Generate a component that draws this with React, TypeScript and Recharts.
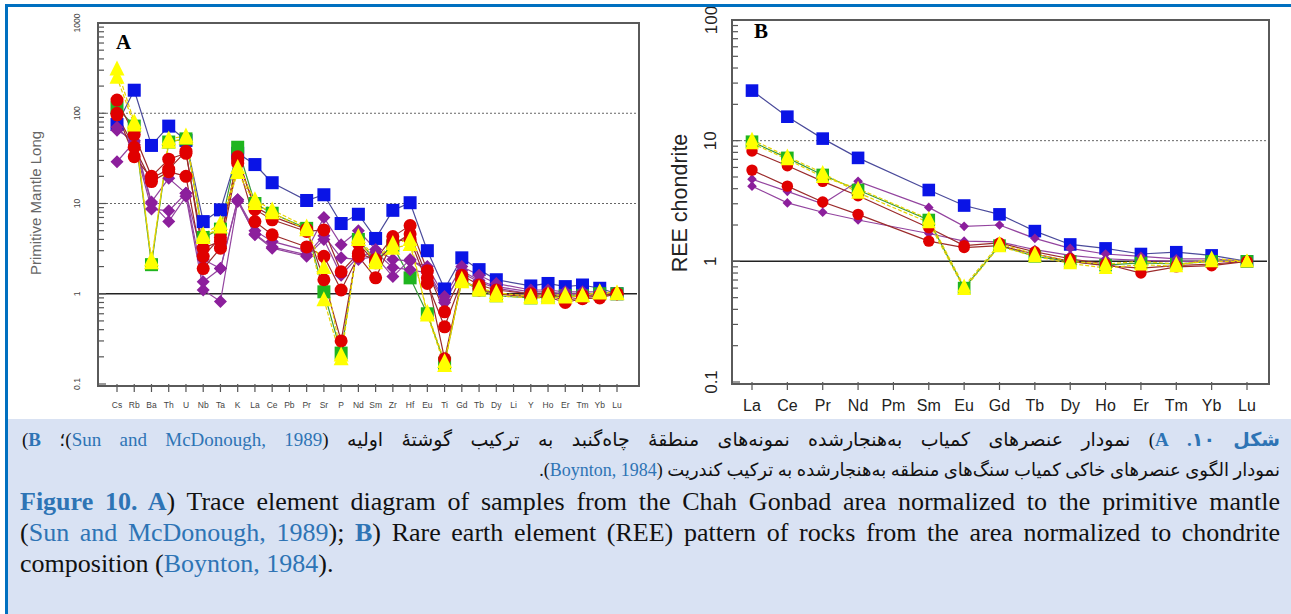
import React from "react";
import { LineChart, Line, XAxis, YAxis, ReferenceLine } from "recharts";

// ---- Panel A: primitive-mantle normalised trace elements ----
const ELEMENTS_A = ["Cs", "Rb", "Ba", "Th", "U", "Nb", "Ta", "K", "La", "Ce", "Pb", "Pr", "Sr", "P", "Nd", "Sm", "Zr", "Hf", "Eu", "Ti", "Gd", "Tb", "Dy", "Li", "Y", "Ho", "Er", "Tm", "Yb", "Lu"];

const BLUE_A = [75, 180, 44, 72, 50, 6.3, 8.5, 36, 27, 17, null, 10.8, 12.5, 6.0, 7.6, 4.1, 8.4, 10.2, 3.0, 1.13, 2.5, 1.85, 1.43, null, 1.22, 1.3, 1.2, 1.25, 1.15, 1.0];
const GREEN_A = [115, 72, 2.1, 48, 52, 4.2, 5.2, 42, 10, 7.8, null, 5.3, 1.05, 0.22, 4.0, 2.3, 3.4, 1.5, 0.6, 0.17, 1.4, 1.1, 0.95, null, 0.9, 0.92, 0.95, 0.95, 1.0, 1.0];
const PURPLE_A1 = [65, 50, 10.4, 19, 13, 2.4, 1.9, 11, 5, 3.8, null, 3.0, 7.0, 3.5, 5.0, 3.1, 2.4, 2.3, 2.0, 0.93, 2.0, 1.6, 1.3, null, 1.1, 1.1, 1.05, 1.05, 1.05, 1.0];
const PURPLE_A2 = [70, 45, 8.7, 8.3, 13, 1.36, 1.9, 11, 4.5, 3.2, null, 2.6, 4.0, 1.6, 2.6, 2.9, 1.95, 1.85, 1.7, 0.8, 1.8, 1.4, 1.2, null, 1.05, 1.05, 1.0, 1.0, 1.0, 1.0];
const PURPLE_A3 = [29, 48, 10, 6.3, 12, 1.1, 0.82, 10.5, 4.6, 3.3, null, 2.7, 4.4, 2.5, 2.4, 2.6, 1.55, 2.4, 1.8, 0.85, 1.7, 1.35, 1.15, null, 1.0, 1.0, 1.0, 1.0, 1.0, 1.0];
const RED_A1 = [140, 58, 20, 31, 36, 3.2, 3.8, 33, 8.6, 6.6, null, 4.9, 5.1, 1.75, 2.8, 2.4, 4.3, 5.7, 1.8, 0.63, 1.6, 1.25, 1.1, null, 1.0, 1.0, 0.9, 0.95, 0.95, 1.0];
const RED_A2 = [96, 42, 17.5, 22.5, 20, 1.9, 3.2, 28, 6.3, 4.5, null, 3.3, 2.6, 1.1, 2.6, 1.5, 3.8, 4.0, 1.3, 0.43, 1.4, 1.15, 1.0, null, 0.92, 0.92, 0.8, 0.88, 0.9, 1.0];
const RED_A3 = [100, 33, 19, 24, 38, 2.6, 4.2, 30, 9.2, 7.2, null, 5.2, 1.43, 0.3, 3.6, 2.2, 3.5, 4.6, 1.5, 0.19, 1.45, 1.1, 1.0, null, 0.95, 0.95, 0.85, 0.9, 0.95, 1.0];
const YELLOW_A1 = [250, 74, 2.38, 48, 53, 4.2, 5.5, 22, 10, 7.9, null, 5.1, 1.95, 0.21, 4.0, 2.2, 3.2, 3.5, 0.62, 0.177, 1.36, 1.16, 1.03, null, 0.93, 0.97, 0.97, 0.96, 1.02, 1.0];
const YELLOW_A2 = [310, 80, 2.2, 52, 56, 4.5, 6.0, 25, 11, 8.5, null, 5.5, 0.86, 0.19, 4.3, 2.4, 3.6, 4.0, 0.58, 0.16, 1.45, 1.1, 0.95, null, 0.9, 0.9, 0.92, 0.95, 1.05, 1.02];

const MAJOR_A = [0.1, 1, 10, 100, 1000];
const MINOR_A = [0.2, 0.3, 0.4, 0.5, 0.6, 0.7, 0.8, 0.9, 2, 3, 4, 5, 6, 7, 8, 9, 20, 30, 40, 50, 60, 70, 80, 90, 200, 300, 400, 500, 600, 700, 800, 900];

// ---- Panel B: chondrite normalised REE ----
const ELEMENTS_B = ["La", "Ce", "Pr", "Nd", "Pm", "Sm", "Eu", "Gd", "Tb", "Dy", "Ho", "Er", "Tm", "Yb", "Lu"];

const BLUE_B = [26, 15.8, 10.4, 7.2, null, 3.9, 2.9, 2.45, 1.78, 1.38, 1.28, 1.15, 1.19, 1.12, 1.0];
const GREEN_B = [9.8, 7.2, 5.2, 3.9, null, 2.2, 0.6, 1.35, 1.1, 1.0, 0.93, 0.97, 0.95, 1.0, 1.0];
const PURPLE_B1 = [4.8, 3.8, 3.0, 4.6, null, 2.8, 1.95, 2.0, 1.55, 1.28, 1.15, 1.1, 1.05, 1.05, 1.0];
const PURPLE_B2 = [4.2, 3.05, 2.55, 2.2, null, 1.7, 1.47, 1.45, 1.25, 1.12, 1.05, 1.02, 1.0, 1.0, 1.0];
const RED_B1 = [8.2, 6.2, 4.6, 3.5, null, 1.9, 1.35, 1.42, 1.2, 1.05, 0.95, 0.8, 0.9, 0.92, 1.0];
const RED_B2 = [5.7, 4.2, 3.1, 2.45, null, 1.47, 1.3, 1.35, 1.15, 1.0, 0.92, 0.88, 0.92, 0.95, 1.0];
const YELLOW_B1 = [10.2, 7.4, 5.4, 3.7, null, 2.1, 0.59, 1.33, 1.1, 0.96, 0.88, 0.94, 0.91, 1.06, 1.0];
const YELLOW_B2 = [9.5, 7.0, 5.0, 4.0, null, 2.25, 0.62, 1.4, 1.15, 1.0, 0.95, 1.0, 0.95, 1.0, 1.0];

const MAJOR_B = [0.1, 1, 10, 100];
const MINOR_B = [0.2, 0.3, 0.4, 0.5, 0.6, 0.7, 0.8, 0.9, 2, 3, 4, 5, 6, 7, 8, 9, 20, 30, 40, 50, 60, 70, 80, 90];

type Shape = "square" | "circle" | "diamond" | "triangle";
type Series = { key: string; values: (number | null)[]; shape: Shape; fill: string; stroke: string; dash?: string };

const STYLE = {
  blue: { shape: "square" as Shape, fill: "#0a14e6", stroke: "#4b4b9b" },
  green: { shape: "square" as Shape, fill: "#1fb51f", stroke: "#3a9a3a" },
  purple: { shape: "diamond" as Shape, fill: "#8c1f9c", stroke: "#93449f" },
  red: { shape: "circle" as Shape, fill: "#e00000", stroke: "#9b2b2b" },
  yellow: { shape: "triangle" as Shape, fill: "#ffff00", stroke: "#e8d400", dash: "4 2" },
};

const SERIES_A: Series[] = [
  { key: "blue", values: BLUE_A, ...STYLE.blue },
  { key: "green", values: GREEN_A, ...STYLE.green },
  { key: "purple1", values: PURPLE_A1, ...STYLE.purple },
  { key: "purple2", values: PURPLE_A2, ...STYLE.purple },
  { key: "purple3", values: PURPLE_A3, ...STYLE.purple },
  { key: "red1", values: RED_A1, ...STYLE.red },
  { key: "red2", values: RED_A2, ...STYLE.red },
  { key: "red3", values: RED_A3, ...STYLE.red },
  { key: "yellow1", values: YELLOW_A1, ...STYLE.yellow },
  { key: "yellow2", values: YELLOW_A2, ...STYLE.yellow },
];

const SERIES_B: Series[] = [
  { key: "blue", values: BLUE_B, ...STYLE.blue },
  { key: "green", values: GREEN_B, ...STYLE.green },
  { key: "purple1", values: PURPLE_B1, ...STYLE.purple },
  { key: "purple2", values: PURPLE_B2, ...STYLE.purple },
  { key: "red1", values: RED_B1, ...STYLE.red },
  { key: "red2", values: RED_B2, ...STYLE.red },
  { key: "yellow1", values: YELLOW_B1, ...STYLE.yellow },
  { key: "yellow2", values: YELLOW_B2, ...STYLE.yellow },
];

const toRows = (cats: string[], series: Series[]) =>
  cats.map((el, i) => {
    const row: Record<string, string | number | null> = { el };
    series.forEach((s) => (row[s.key] = s.values[i]));
    return row;
  });

const dataA = toRows(ELEMENTS_A, SERIES_A);
const dataB = toRows(ELEMENTS_B, SERIES_B);

function marker(shape: Shape, fill: string, size: number) {
  return (p: any) => {
    const { cx, cy, index, value } = p;
    if (value == null || cx == null || cy == null || isNaN(cy)) return <g key={`n${index}`} />;
    const h = size / 2;
    if (shape === "square")
      return <rect key={`m${index}`} x={cx - h} y={cy - h} width={size} height={size} fill={fill} />;
    if (shape === "circle") return <circle key={`m${index}`} cx={cx} cy={cy} r={h} fill={fill} />;
    if (shape === "diamond")
      return <polygon key={`m${index}`} points={`${cx},${cy - h} ${cx + h},${cy} ${cx},${cy + h} ${cx - h},${cy}`} fill={fill} />;
    return (
      <polygon key={`m${index}`} points={`${cx},${cy - h - 1} ${cx + h},${cy + h - 1} ${cx - h},${cy + h - 1}`} fill={fill} />
    );
  };
}

function yTick(axisX: number, labelX: number, majors: number[], fontSize: number, color: string, majorLen: number) {
  return (props: any) => {
    const { y, payload } = props;
    const v = payload.value;
    const major = majors.includes(v);
    return (
      <g>
        <line x1={axisX} x2={axisX + (major ? majorLen : 6)} y1={y} y2={y} stroke="#555" strokeWidth={1.2} />
        {major && (
          <text
            x={labelX}
            y={y}
            transform={`rotate(-90 ${labelX} ${y})`}
            textAnchor="middle"
            dominantBaseline="central"
            fontSize={fontSize}
            fill={color}
            fontFamily="'Liberation Sans', Arial, sans-serif"
          >
            {String(v)}
          </text>
        )}
      </g>
    );
  };
}

function xTick(bottom: number, baseline: number, fontSize: number, color: string) {
  return (props: any) => {
    const { x, payload } = props;
    return (
      <g>
        <line x1={x} x2={x} y1={bottom} y2={bottom + 8} stroke="#555" strokeWidth={1.2} />
        <text x={x} y={baseline} textAnchor="middle" fontSize={fontSize} fill={color} fontFamily="'Liberation Sans', Arial, sans-serif">
          {payload.value}
        </text>
      </g>
    );
  };
}

function renderLines(series: Series[], size: number, scale: Record<Shape, number>) {
  return series.map((s) => (
    <Line
      key={s.key}
      dataKey={s.key}
      type="linear"
      stroke={s.stroke}
      strokeWidth={1.2}
      strokeDasharray={s.dash}
      connectNulls
      dot={marker(s.shape, s.fill, size * scale[s.shape])}
      activeDot={false}
      isAnimationActive={false}
    />
  ));
}

const serif = "'Liberation Serif', 'Times New Roman', 'DejaVu Sans', serif";
const blueTxt = "#2e74b5";

export default function App() {
  return (
    <div style={{ position: "absolute", left: 0, top: 0, width: 1291, height: 614, background: "#fff", overflow: "hidden" }}>
      {/* Panel A */}
      <div style={{ position: "absolute", left: 0, top: 0 }}>
        <LineChart width={660} height={415} data={dataA} margin={{ top: 23, right: 23, left: 0, bottom: 0 }}>
          <XAxis
            dataKey="el"
            interval={0}
            height={31}
            axisLine={false}
            tickLine={false}
            padding={{ left: 19, right: 20 }}
            tick={xTick(384, 408, 8.5, "#444")}
          />
          <YAxis
            type="number"
            scale="log"
            domain={[0.1, 1000]}
            allowDataOverflow
            ticks={[...MAJOR_A, ...MINOR_A]}
            interval={0}
            width={98}
            axisLine={false}
            tickLine={false}
            tick={yTick(98, 77, MAJOR_A, 8.5, "#444", 8)}
          />
          <ReferenceLine y={100} stroke="#666" strokeDasharray="2 2" />
          <ReferenceLine y={10} stroke="#666" strokeDasharray="2 2" />
          <ReferenceLine y={1} stroke="#222" strokeWidth={1.5} />
          {renderLines(SERIES_A, 13, { square: 1, circle: 1, diamond: 1, triangle: 1.15 })}
        </LineChart>
      </div>
      <div style={{ position: "absolute", left: 97, top: 22, width: 539, height: 361, border: "2px solid #5a5a5a", pointerEvents: "none" }} />
      <div style={{ position: "absolute", left: 116, top: 30, fontFamily: serif, fontWeight: "bold", fontSize: 21 }}>A</div>
      <div
        style={{
          position: "absolute",
          left: 35,
          top: 203,
          transform: "translate(-50%, -50%) rotate(-90deg)",
          whiteSpace: "nowrap",
          fontFamily: "'Liberation Sans', Arial, sans-serif",
          fontSize: 15,
          color: "#666",
        }}
      >
        Primitive Mantle Long
      </div>

      {/* Panel B */}
      <div style={{ position: "absolute", left: 640, top: 0 }}>
        <LineChart width={651} height={415} data={dataB} margin={{ top: 20, right: 24, left: 0, bottom: 0 }}>
          <XAxis
            dataKey="el"
            interval={0}
            height={33}
            axisLine={false}
            tickLine={false}
            padding={{ left: 20, right: 20 }}
            tick={xTick(382, 411, 16, "#222")}
          />
          <YAxis
            type="number"
            scale="log"
            domain={[0.1, 100]}
            allowDataOverflow
            ticks={[...MAJOR_B, ...MINOR_B]}
            interval={0}
            width={92}
            axisLine={false}
            tickLine={false}
            tick={yTick(92, 71, MAJOR_B, 17, "#222", 8)}
          />
          <ReferenceLine y={10} stroke="#666" strokeDasharray="2 2" />
          <ReferenceLine y={1} stroke="#222" strokeWidth={1.5} />
          {renderLines(SERIES_B, 12, { square: 1.05, circle: 0.95, diamond: 0.8, triangle: 1.15 })}
        </LineChart>
      </div>
      <div style={{ position: "absolute", left: 731, top: 19, width: 535, height: 362, border: "2px solid #5a5a5a", pointerEvents: "none" }} />
      <div style={{ position: "absolute", left: 754, top: 19, fontFamily: serif, fontWeight: "bold", fontSize: 21 }}>B</div>
      <div
        style={{
          position: "absolute",
          left: 680,
          top: 203,
          transform: "translate(-50%, -50%) rotate(-90deg)",
          whiteSpace: "nowrap",
          fontFamily: "'Liberation Sans', Arial, sans-serif",
          fontSize: 21.5,
          color: "#222",
        }}
      >
        REE chondrite
      </div>

      {/* caption */}
      <div style={{ position: "absolute", left: 8, top: 419, width: 1283, height: 195, background: "#d9e2f3", fontFamily: serif, color: "#111" }}>
        <div
          dir="rtl"
          style={{ position: "absolute", left: 14, width: 1258, top: 7, lineHeight: "28px", fontSize: 19, whiteSpace: "nowrap", textAlign: "justify", textAlignLast: "justify" }}
        >
          <b style={{ color: blueTxt }}>شکل ۱۰. A</b>) نمودار عنصرهای کمیاب به‌هنجارشده نمونه‌های منطقهٔ چاه‌گنبد به ترکیب گوشتهٔ اولیه (
          <span style={{ color: blueTxt }}>Sun and McDonough, 1989</span>)؛ <b style={{ color: blueTxt }}>B</b>)
        </div>
        <div dir="rtl" style={{ position: "absolute", left: 14, width: 1258, top: 37, lineHeight: "28px", fontSize: 18, whiteSpace: "nowrap", textAlign: "right" }}>
          نمودار الگوی عنصرهای خاکی کمیاب سنگ‌های منطقه به‌هنجارشده به ترکیب کندریت (<span style={{ color: blueTxt }}>Boynton, 1984</span>).
        </div>
        <div style={{ position: "absolute", left: 12, width: 1260, top: 67, fontSize: 26, lineHeight: "31px" }}>
          <div style={{ whiteSpace: "nowrap", textAlign: "justify", textAlignLast: "justify" }}>
            <b style={{ color: blueTxt }}>Figure 10. A</b>) Trace element diagram of samples from the Chah Gonbad area normalized to the primitive mantle
          </div>
          <div style={{ whiteSpace: "nowrap", textAlign: "justify", textAlignLast: "justify" }}>
            (<span style={{ color: blueTxt }}>Sun and McDonough, 1989</span>); <b style={{ color: blueTxt }}>B</b>) Rare earth element (REE) pattern of rocks from the area normalized to chondrite
          </div>
          <div style={{ whiteSpace: "nowrap" }}>
            composition (<span style={{ color: blueTxt }}>Boynton, 1984</span>).
          </div>
        </div>
      </div>

      {/* frame */}
      <div style={{ position: "absolute", left: 0, top: 0, width: 1291, height: 4, background: "#fff" }} />
      <div style={{ position: "absolute", left: 5, top: 4, right: 0, bottom: 0, borderLeft: "3px solid #0070c0", borderTop: "3px solid #0070c0", pointerEvents: "none" }} />
    </div>
  );
}
